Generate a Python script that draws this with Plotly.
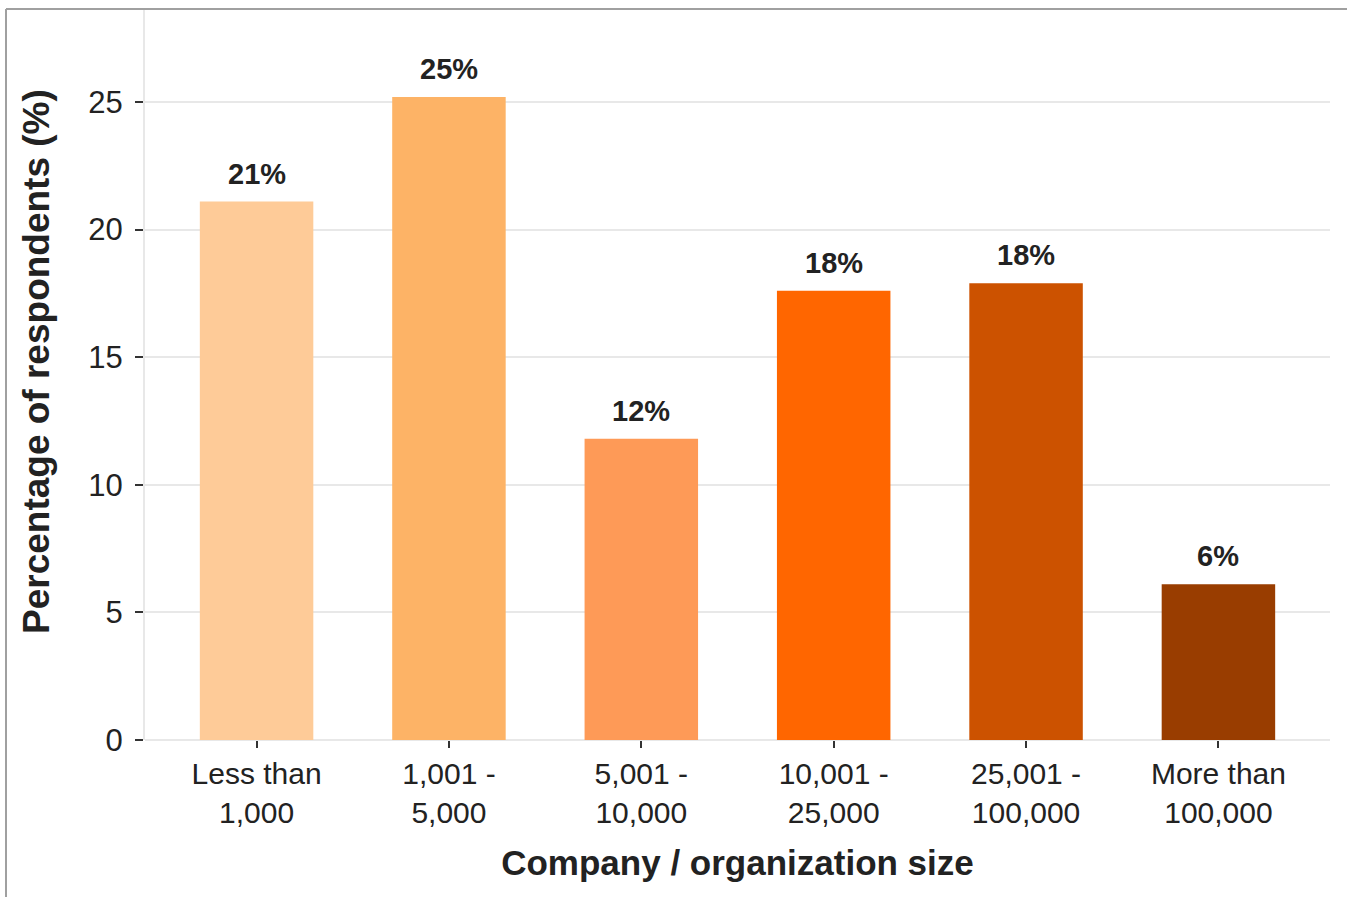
import plotly.graph_objects as go

# Survey share by company / organization size
categories = ["Less than<br>1,000", "1,001 -<br>5,000", "5,001 -<br>10,000",
              "10,001 -<br>25,000", "25,001 -<br>100,000", "More than<br>100,000"]
values = [21.1, 25.2, 11.8, 17.6, 17.9, 6.1]
bar_colors = ["#FECB98", "#FDB366", "#FE9A57", "#FF6600", "#CC5200", "#993D00"]
y_ticks = [0, 5, 10, 15, 20, 25]

W, H = 1347, 897
M_L, M_R, M_T, M_B = 145, 17, 10, 157
plot_w = W - M_L - M_R
plot_h = H - M_T - M_B

FONT = "Liberation Sans, Arial, sans-serif"
INK = "#222222"


def px_x(p):
    """Pixel column -> paper x."""
    return (p - M_L) / plot_w


def px_y(p):
    """Pixel row -> paper y."""
    return (H - M_B - p) / plot_h


fig = go.Figure(
    go.Bar(
        x=categories,
        y=values,
        marker=dict(color=bar_colors, line=dict(width=0)),
        width=0.59,
        hoverinfo="skip",
    )
)

# Percentage labels above each bar
for cat, val in zip(categories, values):
    fig.add_annotation(
        x=cat, y=val, text=f"<b>{val:.0f}%</b>", showarrow=False,
        yanchor="bottom", yshift=10,
        font=dict(family=FONT, size=29, color=INK),
    )

# Vertical axis title
fig.add_annotation(
    xref="paper", yref="paper", x=px_x(36), y=px_y(362),
    xanchor="center", yanchor="middle", textangle=-90, showarrow=False,
    text="<b>Percentage of respondents (%)</b>",
    font=dict(family=FONT, size=37, color=INK),
)

# Thin page frame along the top and left edges
frame = dict(color="#A0A0A0", width=2)
fig.add_shape(type="line", xref="paper", yref="paper",
              x0=px_x(6), x1=px_x(W + 5), y0=px_y(9), y1=px_y(9), line=frame)
fig.add_shape(type="line", xref="paper", yref="paper",
              x0=px_x(6), x1=px_x(6), y0=px_y(9), y1=px_y(H + 5), line=frame)

fig.update_layout(
    width=W, height=H,
    margin=dict(l=M_L, r=M_R, t=M_T, b=M_B),
    paper_bgcolor="white", plot_bgcolor="white",
    showlegend=False,
    font=dict(family=FONT, color=INK),
    xaxis=dict(
        range=[-0.58, 5.58],
        showgrid=False, showline=False, zeroline=False,
        ticks="outside", ticklen=7, tickwidth=2, tickcolor="#333333",
        tickfont=dict(family=FONT, size=30, color=INK),
        title=dict(text="<b>Company / organization size</b>",
                   font=dict(family=FONT, size=35, color=INK), standoff=22),
    ),
    yaxis=dict(
        range=[0, (H - M_B - M_T) / 25.52],
        tickvals=y_ticks,
        showgrid=True, gridcolor="#E8E8E8", gridwidth=2,
        showline=True, linecolor="#E8E8E8", linewidth=2,
        zeroline=True, zerolinecolor="#E8E8E8", zerolinewidth=2,
        ticks="outside", ticklen=8, tickwidth=2, tickcolor="#333333",
        ticklabelstandoff=6,
        tickfont=dict(family=FONT, size=31, color=INK),
    ),
)

fig.write_html("out.html")
